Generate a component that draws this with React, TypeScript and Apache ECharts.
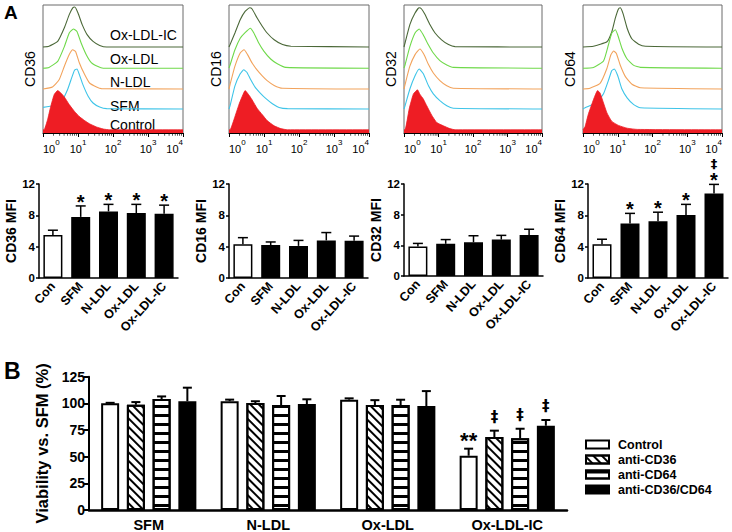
import { useEffect, useRef } from "react";
import * as echarts from "echarts";

const FONT = "'Liberation Sans', Arial, Helvetica, sans-serif";

// ---------- Panel A, top row: flow cytometry histograms ----------
const histMarkers = ["CD36", "CD16", "CD32", "CD64"];
const histConditions = ["Control", "SFM", "N-LDL", "Ox-LDL", "Ox-LDL-IC"];
const histDecadeLabels = [0, 1, 2, 3, 4];
// each point: [log10 fluorescence, relative count (peak ~100)]
const cd36Control = [[0.03, 0], [0.13, 25], [0.22, 58], [0.32, 88], [0.42, 98], [0.51, 92], [0.61, 82], [0.75, 63], [0.9, 46], [1.04, 33], [1.19, 23], [1.33, 15], [1.53, 7], [1.72, 2], [1.9, 0]];
const cd36Sfm = [[0, 4], [0.3, 8], [0.45, 14], [0.56, 23], [0.7, 48], [0.8, 73], [0.9, 97], [0.97, 100], [1.04, 86], [1.14, 61], [1.29, 32], [1.43, 15], [1.62, 5], [1.82, 1]];
const cd36Nldl = [[0.27, 5], [0.46, 23], [0.61, 57], [0.75, 86], [0.85, 98], [0.93, 94], [1.04, 65], [1.19, 36], [1.33, 15], [1.53, 5], [1.67, 1]];
const cd36Ox = [[0.17, 2], [0.42, 17], [0.61, 54], [0.75, 88], [0.87, 98], [0.97, 92], [1.09, 63], [1.24, 33], [1.38, 14], [1.57, 4], [1.72, 0]];
const cd36Ic = [[0.17, 2], [0.42, 14], [0.61, 48], [0.75, 81], [0.85, 98], [0.91, 100], [1.0, 85], [1.12, 56], [1.26, 31], [1.43, 14], [1.62, 4], [1.82, 0]];

const cd16Control = [[0.03, 0], [0.17, 33], [0.3, 67], [0.42, 92], [0.46, 98], [0.56, 88], [0.66, 75], [0.8, 54], [0.95, 38], [1.09, 23], [1.29, 10], [1.48, 3], [1.67, 0]];
const cd16Sfm = [[0.03, 8], [0.17, 58], [0.32, 88], [0.42, 98], [0.51, 92], [0.61, 75], [0.75, 54], [0.9, 39], [1.04, 27], [1.24, 13], [1.43, 4], [1.67, 1]];
const cd16Nldl = [[0.03, 11], [0.17, 57], [0.32, 90], [0.43, 98], [0.53, 86], [0.66, 65], [0.8, 48], [0.95, 33], [1.09, 21], [1.29, 9], [1.53, 2]];
const cd16Ox = [[0.03, 8], [0.17, 46], [0.32, 75], [0.46, 89], [0.61, 100], [0.71, 88], [0.85, 63], [1.0, 42], [1.19, 23], [1.38, 11], [1.62, 2]];
const cd16Ic = [[0.03, 6], [0.17, 35], [0.32, 68], [0.46, 89], [0.59, 98], [0.66, 95], [0.8, 73], [0.95, 52], [1.09, 35], [1.29, 18], [1.53, 6], [1.77, 2]];

const cd32Control = [[0.03, 0], [0.15, 52], [0.27, 89], [0.39, 100], [0.46, 89], [0.56, 77], [0.66, 60], [0.8, 37], [0.95, 18], [1.14, 10], [1.33, 3], [1.48, 0]];
const cd32Sfm = [[0.03, 8], [0.17, 50], [0.32, 83], [0.44, 100], [0.56, 88], [0.71, 58], [0.85, 38], [1.04, 21], [1.24, 8], [1.43, 2]];
const cd32Nldl = [[0.03, 11], [0.17, 57], [0.32, 86], [0.46, 100], [0.58, 86], [0.71, 61], [0.85, 40], [1.04, 21], [1.24, 8], [1.43, 2]];
const cd32Ox = [[0.03, 8], [0.17, 54], [0.32, 88], [0.44, 98], [0.56, 83], [0.71, 58], [0.85, 38], [1.04, 19], [1.24, 8], [1.43, 2]];
const cd32Ic = [[0.03, 10], [0.17, 56], [0.32, 85], [0.44, 98], [0.51, 95], [0.61, 81], [0.75, 56], [0.9, 35], [1.09, 18], [1.29, 6], [1.48, 1]];

const cd64Control = [[0.06, 8], [0.15, 38], [0.3, 75], [0.42, 98], [0.49, 92], [0.59, 67], [0.69, 42], [0.83, 21], [1.02, 11], [1.27, 4], [1.56, 1]];
const cd64Sfm = [[0.06, 3], [0.4, 17], [0.59, 38], [0.73, 71], [0.83, 96], [0.9, 100], [1.0, 83], [1.12, 50], [1.27, 28], [1.46, 11], [1.65, 3]];
const cd64Nldl = [[0.2, 2], [0.49, 14], [0.69, 52], [0.8, 85], [0.88, 95], [0.96, 89], [1.07, 60], [1.22, 31], [1.41, 12], [1.65, 3]];
const cd64Ox = [[0.3, 2], [0.59, 18], [0.73, 58], [0.83, 88], [0.93, 96], [1.0, 83], [1.12, 50], [1.27, 23], [1.46, 7], [1.65, 2]];
const cd64Ic = [[0.3, 2], [0.69, 13], [0.83, 38], [0.93, 72], [1.02, 95], [1.07, 98], [1.15, 84], [1.27, 47], [1.41, 20], [1.6, 7], [1.8, 2]];

const histCurves = [
  [cd36Control, cd36Sfm, cd36Nldl, cd36Ox, cd36Ic],
  [cd16Control, cd16Sfm, cd16Nldl, cd16Ox, cd16Ic],
  [cd32Control, cd32Sfm, cd32Nldl, cd32Ox, cd32Ic],
  [cd64Control, cd64Sfm, cd64Nldl, cd64Ox, cd64Ic],
];

// ---------- Panel A, bottom row: MFI bar charts ----------
const mfiCategories = ["Con", "SFM", "N-LDL", "Ox-LDL", "Ox-LDL-IC"];
const cd36Mfi = [5.5, 7.8, 8.5, 8.3, 8.2];
const cd36Sem = [0.6, 1.4, 0.9, 1.1, 1.1];
const cd16Mfi = [4.3, 4.2, 4.1, 4.8, 4.75];
const cd16Sem = [0.85, 0.4, 0.7, 1.0, 0.6];
const cd32Mfi = [3.85, 4.2, 4.4, 4.75, 5.35];
const cd32Sem = [0.4, 0.55, 0.85, 0.55, 0.75];
const cd64Mfi = [4.3, 6.95, 7.25, 8.05, 10.8];
const cd64Sem = [0.65, 1.3, 1.15, 1.35, 1.15];
const cd36Stars = ["", "*", "*", "*", "*"];
const cd16Stars = ["", "", "", "", ""];
const cd32Stars = ["", "", "", "", ""];
const cd64Stars = ["", "*", "*", "*", "*"];
const cd64Daggers = ["", "", "", "", "‡"];
const noMarks = ["", "", "", "", ""];
const mfiTicks = { min: 0, max: 12, interval: 4 };

// ---------- Panel B: viability ----------
const viabilityGroups = ["SFM", "N-LDL", "Ox-LDL", "Ox-LDL-IC"];
const treatments = ["Control", "anti-CD36", "anti-CD64", "anti-CD36/CD64"];
const viabControl = [100, 102, 103.5, 50.9];
const viabControlSem = [0.5, 1.5, 1.2, 6.6];
const viabAntiCD36 = [98.7, 100.3, 98.4, 68.4];
const viabAntiCD36Sem = [2.5, 1.7, 4.6, 6];
const viabAntiCD64 = [104, 98.4, 98.4, 67.2];
const viabAntiCD64Sem = [2.5, 8.5, 5, 9];
const viabCombo = [102, 99.4, 97.5, 79];
const viabComboSem = [12.7, 4.4, 14, 5.4];
const viabStars = [["", "", "", "**"], ["", "", "", ""], ["", "", "", ""], ["", "", "", ""]];
const viabDaggers = [["", "", "", ""], ["", "", "", "‡"], ["", "", "", "‡"], ["", "", "", "‡"]];
const viabTicks = { min: 0, max: 125, interval: 25 };

// ---------- layout / style ----------
const histColors = ["#ee1d24", "#3ec4e8", "#f2a35c", "#6fd94a", "#4b6838"];
const histGrids = [
  { left: 43, width: 140 },
  { left: 229, width: 140 },
  { left: 404, width: 138 },
  { left: 583, width: 139 },
];
const HIST_TOP = 5;
const HIST_H = 128;
const HIST_YMAX = 320;
const histOffsets = [8, 60, 110, 162, 215];
const mfiGrids = [
  { left: 39, width: 139, top: 184, height: 94 },
  { left: 229, width: 139, top: 184, height: 94 },
  { left: 404, width: 139, top: 184, height: 92 },
  { left: 588, width: 140, top: 184, height: 94 },
];
const viabGrid = { left: 89, width: 478, top: 376.7, height: 133.3 };

function errorSeries(axisIndex: number, values: number[], errs: number[], stars: string[], daggers: string[], o: any) {
  return {
    type: "custom",
    xAxisIndex: axisIndex,
    yAxisIndex: axisIndex,
    z: 3,
    clip: false,
    silent: true,
    data: values.map((v, k) => [k, v, errs[k]]),
    encode: { x: 0, y: 1 },
    renderItem: (params: any, api: any) => {
      const k = api.value(0);
      const v = api.value(1);
      const e = api.value(2);
      const base = api.coord([k, v]);
      const top = api.coord([k, v + e]);
      const x = base[0] + o.offset;
      const children: any[] = [];
      if (e > 0) {
        children.push({
          type: "line",
          shape: { x1: x, y1: base[1], x2: x, y2: top[1] },
          style: { stroke: "#000", lineWidth: o.lw },
        });
        children.push({
          type: "line",
          shape: { x1: x - o.cap / 2, y1: top[1], x2: x + o.cap / 2, y2: top[1] },
          style: { stroke: "#000", lineWidth: o.lw },
        });
      }
      const s = stars[params.dataIndex];
      const d = daggers[params.dataIndex];
      if (s) {
        children.push({
          type: "text",
          x,
          y: top[1] - o.starGap,
          style: { text: s, fontSize: o.starSize, fontWeight: "bold", fontFamily: FONT, fill: "#000", align: "center", verticalAlign: "middle" },
        });
      }
      if (d) {
        children.push({
          type: "text",
          x,
          y: top[1] - (s ? o.daggerGapWithStar : o.daggerGap),
          style: { text: d, fontSize: o.daggerSize, fontWeight: "bold", fontFamily: "'DejaVu Sans', " + FONT, fill: "#000", align: "center", verticalAlign: "middle" },
        });
      }
      return { type: "group", children };
    },
  };
}

function buildOption() {
  const grid: any[] = [];
  const xAxis: any[] = [];
  const yAxis: any[] = [];
  const series: any[] = [];
  const minorTicks: number[] = [];
  for (let n = 0; n < 4; n++) for (let k = 2; k <= 9; k++) minorTicks.push(n + Math.log10(k));

  // histogram panels
  histMarkers.forEach((marker, i) => {
    grid.push({ left: histGrids[i].left, width: histGrids[i].width, top: HIST_TOP, height: HIST_H, show: true, borderColor: "#6b6b6b", borderWidth: 1 });
    xAxis.push({
      gridIndex: i,
      type: "value",
      min: 0,
      max: 4,
      interval: 1,
      axisLine: { lineStyle: { color: "#000", width: 1 } },
      axisTick: { length: 4, lineStyle: { color: "#000", width: 1 } },
      splitLine: { show: false },
      axisLabel: {
        margin: 5,
        alignMinLabel: "left",
        alignMaxLabel: "right",
        formatter: (v: number) => `{b|10}{s|${histDecadeLabels[v]}}`,
        rich: {
          b: { fontSize: 11, fontFamily: FONT, color: "#000", verticalAlign: "bottom", padding: [5, 0, 0, 0] },
          s: { fontSize: 8, fontFamily: FONT, color: "#000", verticalAlign: "top", lineHeight: 9 },
        },
      },
    });
    yAxis.push({
      gridIndex: i,
      type: "value",
      min: 0,
      max: HIST_YMAX,
      axisLine: { show: false },
      axisTick: { show: false },
      axisLabel: { show: false },
      splitLine: { show: false },
      name: marker,
      nameLocation: "middle",
      nameGap: 6,
      nameTextStyle: { fontSize: 14, fontFamily: FONT, color: "#000" },
    });
    histCurves[i].forEach((curve, j) => {
      const pts = curve.map(([x, h]) => [x, h + histOffsets[j]]);
      if (curve[0][0] > 0) pts.unshift([0, histOffsets[j]]);
      pts.push([4, histOffsets[j]]);
      series.push({
        type: "line",
        name: `${marker} ${histConditions[j]}`,
        xAxisIndex: i,
        yAxisIndex: i,
        data: pts,
        symbol: "none",
        smooth: 0.15,
        silent: true,
        z: 10 - j,
        lineStyle: { color: histColors[j], width: j === 0 ? 0.8 : 1.1 },
        areaStyle: j === 0 ? { color: histColors[0], opacity: 1, origin: "start" } : undefined,
      });
    });
    series.push({
      type: "scatter",
      xAxisIndex: i,
      yAxisIndex: i,
      data: minorTicks.map((t) => [t, 0]),
      symbol: "rect",
      symbolSize: [0.8, 2.5],
      symbolOffset: [0, 1.5],
      itemStyle: { color: "#000" },
      clip: false,
      silent: true,
    });
  });

  // MFI panels
  const mfiSets = [
    [cd36Mfi, cd36Sem, cd36Stars, noMarks],
    [cd16Mfi, cd16Sem, cd16Stars, noMarks],
    [cd32Mfi, cd32Sem, cd32Stars, noMarks],
    [cd64Mfi, cd64Sem, cd64Stars, cd64Daggers],
  ] as any[];
  histMarkers.forEach((marker, i) => {
    const gi = 4 + i;
    grid.push({ ...mfiGrids[i] });
    xAxis.push({
      gridIndex: gi,
      type: "category",
      data: mfiCategories,
      axisLine: { lineStyle: { color: "#000", width: 1.5 } },
      axisTick: { show: false },
      axisLabel: { rotate: 48, interval: 0, margin: 6, fontSize: 12.5, fontWeight: "bold", fontFamily: FONT, color: "#000" },
    });
    yAxis.push({
      gridIndex: gi,
      type: "value",
      ...mfiTicks,
      axisLine: { show: true, lineStyle: { color: "#000", width: 1.5 } },
      axisTick: { show: true, length: 3, lineStyle: { color: "#000", width: 1.5 } },
      axisLabel: { margin: 4, fontSize: 11.5, fontWeight: "bold", fontFamily: FONT, color: "#000" },
      splitLine: { show: false },
      name: `${marker} MFI`,
      nameLocation: "middle",
      nameGap: 13,
      nameTextStyle: { fontSize: 14, fontWeight: "bold", fontFamily: FONT, color: "#000" },
    });
    const [vals, errs, stars, daggers] = mfiSets[i];
    series.push({
      type: "bar",
      name: `${marker} MFI`,
      xAxisIndex: gi,
      yAxisIndex: gi,
      barWidth: 19,
      silent: true,
      z: 2,
      data: vals.map((v: number, k: number) => ({ value: v, itemStyle: { color: k === 0 ? "#fff" : "#000" } })),
      itemStyle: { borderColor: "#000", borderWidth: 1.5 },
    });
    series.push(
      errorSeries(gi, vals, errs, stars, daggers, {
        offset: 0,
        lw: 1.5,
        cap: 10,
        starGap: 4,
        starSize: 20,
        daggerGap: 13,
        daggerGapWithStar: 21,
        daggerSize: 13,
      })
    );
  });

  // Panel B
  const bi = 8;
  grid.push({ ...viabGrid });
  xAxis.push({
    gridIndex: bi,
    type: "category",
    data: viabilityGroups,
    axisLine: { lineStyle: { color: "#000", width: 2.5 } },
    axisTick: { show: false },
    axisLabel: { margin: 7, fontSize: 14.5, fontWeight: "bold", fontFamily: FONT, color: "#000" },
  });
  yAxis.push({
    gridIndex: bi,
    type: "value",
    ...viabTicks,
    axisLine: { show: true, lineStyle: { color: "#000", width: 2 } },
    axisTick: { show: true, length: 5, lineStyle: { color: "#000", width: 2 } },
    axisLabel: { margin: 4, fontSize: 14, fontWeight: "bold", fontFamily: FONT, color: "#000" },
    splitLine: { show: false },
    name: "Viability vs. SFM (%)",
    nameLocation: "middle",
    nameGap: 36,
    nameTextStyle: { fontSize: 16.5, fontWeight: "bold", fontFamily: FONT, color: "#000" },
  });
  const BAR_W = 18;
  const BAR_GAP = 0.43;
  const decals: any[] = [
    undefined,
    { symbol: "rect", symbolKeepAspect: false, color: "#000", dashArrayX: [1, 0], dashArrayY: [2, 4], rotation: Math.PI / 4 },
    { symbol: "rect", symbolKeepAspect: false, color: "#000", dashArrayX: [1, 0], dashArrayY: [3, 6], rotation: 0 },
    undefined,
  ];
  const viabVals = [viabControl, viabAntiCD36, viabAntiCD64, viabCombo];
  const viabErrs = [viabControlSem, viabAntiCD36Sem, viabAntiCD64Sem, viabComboSem];
  treatments.forEach((t, k) => {
    series.push({
      type: "bar",
      name: t,
      xAxisIndex: bi,
      yAxisIndex: bi,
      barWidth: BAR_W,
      barGap: `${BAR_GAP * 100}%`,
      silent: true,
      z: 2,
      data: viabVals[k],
      itemStyle: { color: k === 3 ? "#000" : "#fff", borderColor: "#000", borderWidth: 2, decal: decals[k] },
    });
  });
  treatments.forEach((t, k) => {
    series.push(
      errorSeries(bi, viabVals[k], viabErrs[k], viabStars[k], viabDaggers[k], {
        offset: (k - 1.5) * BAR_W * (1 + BAR_GAP),
        lw: 2,
        cap: 9,
        starGap: 8,
        starSize: 22,
        daggerGap: 14,
        daggerGapWithStar: 26,
        daggerSize: 15,
      })
    );
  });

  const labelYs = [35, 59, 82, 106, 125];
  const histLabelOrder = [4, 3, 2, 1, 0];
  const graphic: any[] = [
    { type: "text", left: 4, top: 3, style: { text: "A", fontSize: 19, fontWeight: "bold", fontFamily: FONT, fill: "#000" } },
    { type: "text", left: 4, top: 359, style: { text: "B", fontSize: 23, fontWeight: "bold", fontFamily: FONT, fill: "#000" } },
  ];
  histLabelOrder.forEach((ci, r) => {
    graphic.push({
      type: "text",
      x: 110,
      y: labelYs[r],
      style: { text: histConditions[ci], fontSize: 14, fontFamily: FONT, fill: "#000", verticalAlign: "middle", align: "left" },
    });
  });

  return {
    animation: false,
    backgroundColor: "#fff",
    textStyle: { fontFamily: FONT },
    grid,
    xAxis,
    yAxis,
    series,
    graphic,
    legend: {
      data: treatments,
      orient: "vertical",
      left: 580,
      top: 433,
      itemWidth: 23,
      itemHeight: 8,
      itemGap: 2,
      selectedMode: false,
      icon: "rect",
      itemStyle: { borderColor: "#000", borderWidth: 2 },
      textStyle: { fontSize: 12.5, fontWeight: "bold", fontFamily: FONT, color: "#000", padding: [0, 0, 0, 4] },
    },
  };
}

export default function App() {
  const ref = useRef<HTMLDivElement>(null);
  useEffect(() => {
    if (!ref.current) return;
    const chart = echarts.init(ref.current, undefined, { renderer: "svg" });
    chart.setOption(buildOption() as any);
    return () => chart.dispose();
  }, []);
  return <div ref={ref} style={{ position: "absolute", left: 0, top: 0, width: 732, height: 532 }} />;
}
